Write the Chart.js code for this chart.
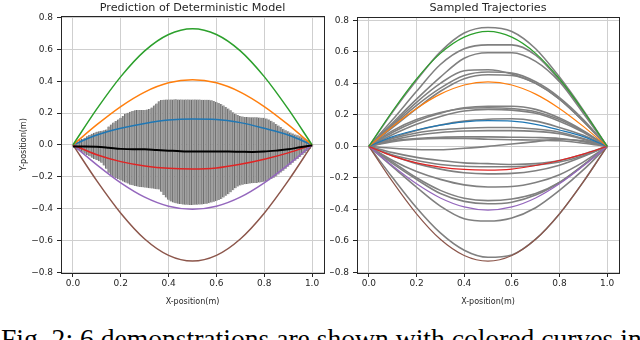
<!DOCTYPE html>
<html><head><meta charset="utf-8">
<script src="https://cdn.jsdelivr.net/npm/chart.js@4.4.1/dist/chart.umd.min.js"></script>
<style>
html,body{margin:0;padding:0;background:#fff;width:640px;height:340px;overflow:hidden;}
#c1{position:absolute;left:0;top:0;}
#c2{position:absolute;left:330px;top:0;}
#cap{position:absolute;left:1px;top:325px;font-family:'Liberation Serif';font-size:27.6px;line-height:27px;white-space:nowrap;color:#000;}
</style></head><body>
<canvas id="c1" width="330" height="312"></canvas>
<canvas id="c2" width="310" height="312"></canvas>
<div id="cap">Fig. 2: 6 demonstrations are shown with colored curves in</div>
<script>
// ---- data ----
const xTicks = [0, 0.2, 0.4, 0.6, 0.8, 1.0];
const yTicks = [-0.8, -0.6, -0.4, -0.2, 0, 0.2, 0.4, 0.6, 0.8];
const xs = [0, 0.1, 0.2, 0.3, 0.4, 0.5, 0.6, 0.7, 0.8, 0.9, 1.0];
const xsFine = [0,0.05,0.1,0.15,0.2,0.25,0.3,0.35,0.4,0.45,0.5,0.55,0.6,0.65,0.7,0.75,0.8,0.85,0.9,0.95,1.0];

const demoGreen  = [0, 0.226, 0.429, 0.591, 0.694, 0.73, 0.694, 0.591, 0.429, 0.226, 0];
const demoOrange = [0, 0.127, 0.241, 0.332, 0.39, 0.41, 0.39, 0.332, 0.241, 0.127, 0];
const demoBlue   = [0, 0.062, 0.104, 0.135, 0.156, 0.163, 0.16, 0.14, 0.104, 0.062, 0];
const demoRed    = [0, -0.062, -0.105, -0.132, -0.147, -0.151, -0.145, -0.122, -0.09, -0.05, 0];
const demoPurple = [0, -0.125, -0.238, -0.328, -0.385, -0.405, -0.385, -0.328, -0.238, -0.125, 0];
const demoBrown  = [0, -0.226, -0.429, -0.591, -0.694, -0.73, -0.694, -0.591, -0.429, -0.226, 0];

const predMean = [-0.01,-0.01,-0.012,-0.018,-0.025,-0.028,-0.028,-0.032,-0.036,-0.04,-0.042,-0.042,-0.042,-0.042,-0.043,-0.044,-0.042,-0.036,-0.028,-0.015,-0.003];

const barX = [0,0.01,0.02,0.03,0.04,0.05,0.06,0.07,0.08,0.09,
 0.1,0.11,0.12,0.13,0.14,0.15,0.16,0.17,0.18,0.19,
 0.2,0.21,0.22,0.23,0.24,0.25,0.26,0.27,0.28,0.29,
 0.3,0.31,0.32,0.33,0.34,0.35,0.36,0.37,0.38,0.39,
 0.4,0.41,0.42,0.43,0.44,0.45,0.46,0.47,0.48,0.49,
 0.5,0.51,0.52,0.53,0.54,0.55,0.56,0.57,0.58,0.59,
 0.6,0.61,0.62,0.63,0.64,0.65,0.66,0.67,0.68,0.69,
 0.7,0.71,0.72,0.73,0.74,0.75,0.76,0.77,0.78,0.79,
 0.8,0.81,0.82,0.83,0.84,0.85,0.86,0.87,0.88,0.89,
 0.9,0.91,0.92,0.93,0.94,0.95,0.96,0.97,0.98,0.99,1.0];
const barHi = [0,0.01,0.02,0.03,0.037,0.045,0.055,0.062,0.07,0.077,
 0.083,0.086,0.089,0.092,0.096,0.115,0.128,0.14,0.15,0.16,
 0.17,0.182,0.195,0.202,0.208,0.213,0.217,0.219,0.22,0.22,
 0.22,0.222,0.226,0.235,0.248,0.26,0.275,0.282,0.284,0.285,
 0.285,0.286,0.286,0.287,0.286,0.286,0.285,0.286,0.286,0.285,
 0.285,0.286,0.285,0.285,0.284,0.284,0.284,0.283,0.28,0.276,
 0.27,0.264,0.257,0.248,0.238,0.228,0.218,0.205,0.195,0.188,
 0.182,0.178,0.176,0.175,0.174,0.174,0.173,0.173,0.172,0.171,
 0.17,0.166,0.16,0.152,0.143,0.132,0.122,0.112,0.102,0.092,
 0.085,0.078,0.072,0.066,0.06,0.054,0.048,0.04,0.03,0.018,0.005];
const barLo = [-0.01,-0.02,-0.03,-0.04,-0.048,-0.056,-0.064,-0.072,-0.08,-0.088,
 -0.095,-0.102,-0.112,-0.13,-0.15,-0.175,-0.19,-0.2,-0.208,-0.215,
 -0.222,-0.23,-0.237,-0.243,-0.25,-0.254,-0.258,-0.261,-0.264,-0.266,
 -0.268,-0.27,-0.272,-0.274,-0.276,-0.278,-0.28,-0.295,-0.315,-0.33,
 -0.345,-0.355,-0.362,-0.367,-0.37,-0.372,-0.375,-0.376,-0.376,-0.377,
 -0.377,-0.376,-0.376,-0.375,-0.374,-0.372,-0.37,-0.366,-0.362,-0.357,
 -0.352,-0.346,-0.34,-0.33,-0.32,-0.31,-0.298,-0.285,-0.272,-0.262,
 -0.255,-0.25,-0.247,-0.245,-0.243,-0.241,-0.24,-0.239,-0.237,-0.235,
 -0.232,-0.228,-0.222,-0.215,-0.207,-0.198,-0.186,-0.174,-0.162,-0.15,
 -0.138,-0.125,-0.112,-0.1,-0.088,-0.076,-0.064,-0.052,-0.04,-0.025,-0.012];

const sampledY = [
 [0, 0.22, 0.42, 0.60, 0.72, 0.755, 0.73, 0.62, 0.44, 0.23, 0],
 [0, 0.17, 0.35, 0.52, 0.62, 0.645, 0.645, 0.58, 0.42, 0.22, 0],
 [0, 0.15, 0.30, 0.44, 0.56, 0.595, 0.595, 0.54, 0.41, 0.21, 0],
 [0, 0.14, 0.28, 0.40, 0.48, 0.487, 0.46, 0.40, 0.30, 0.16, 0],
 [0, 0.13, 0.26, 0.37, 0.45, 0.472, 0.465, 0.41, 0.31, 0.17, 0],
 [0, 0.12, 0.24, 0.35, 0.43, 0.455, 0.45, 0.40, 0.30, 0.16, 0],
 [0, 0.09, 0.16, 0.21, 0.245, 0.255, 0.255, 0.235, 0.18, 0.10, 0],
 [0, 0.10, 0.17, 0.215, 0.24, 0.245, 0.24, 0.22, 0.17, 0.095, 0],
 [0, 0.075, 0.14, 0.19, 0.225, 0.235, 0.23, 0.21, 0.16, 0.09, 0],
 [0, 0.055, 0.10, 0.135, 0.16, 0.172, 0.175, 0.16, 0.12, 0.07, 0],
 [0, 0.05, 0.085, 0.105, 0.115, 0.12, 0.12, 0.11, 0.09, 0.05, 0],
 [0, 0.04, 0.07, 0.088, 0.097, 0.10, 0.10, 0.095, 0.08, 0.045, 0],
 [0, 0.035, 0.05, 0.058, 0.06, 0.06, 0.058, 0.056, 0.05, 0.03, 0],
 [0, 0.03, 0.045, 0.05, 0.05, 0.045, 0.042, 0.04, 0.035, 0.02, 0],
 [0, -0.012, -0.02, -0.022, -0.012, 0.0, 0.015, 0.03, 0.045, 0.035, 0],
 [0, -0.04, -0.07, -0.09, -0.105, -0.11, -0.115, -0.11, -0.09, -0.05, 0],
 [0, -0.055, -0.09, -0.115, -0.127, -0.13, -0.13, -0.12, -0.10, -0.06, 0],
 [0, -0.06, -0.11, -0.145, -0.168, -0.175, -0.172, -0.155, -0.12, -0.065, 0],
 [0, -0.09, -0.16, -0.21, -0.245, -0.258, -0.255, -0.23, -0.18, -0.10, 0],
 [0, -0.10, -0.20, -0.28, -0.33, -0.345, -0.335, -0.30, -0.23, -0.12, 0],
 [0, -0.11, -0.21, -0.30, -0.35, -0.365, -0.355, -0.31, -0.23, -0.12, 0],
 [0, -0.13, -0.26, -0.38, -0.46, -0.475, -0.455, -0.39, -0.28, -0.15, 0],
 [0, -0.20, -0.39, -0.55, -0.66, -0.705, -0.69, -0.59, -0.43, -0.226, 0]
];

// ---- styling / helpers ----
const FONT = 'DejaVu Sans';
Chart.defaults.font.family = FONT;
Chart.defaults.color = '#262626';
const demoColors = ['#2ca02c', '#ff7f0e', '#1f77b4', '#e02424', '#9467bd', '#8c564b'];
const demos = [demoGreen, demoOrange, demoBlue, demoRed, demoPurple, demoBrown];
const pts = (xv, yv) => xv.map((x, i) => ({x, y: yv[i]}));
const fmt = v => (v < 0 ? '\u2212' : '') + Math.abs(v).toFixed(1);

const frame = {id: 'frame', afterDraw(c, args, opts) {
  const {ctx, chartArea: a} = c;
  ctx.save(); ctx.strokeStyle = '#262626'; ctx.lineWidth = 1;
  ctx.strokeRect(Math.round(a.left) + 0.5, Math.round(a.top) + 0.5, Math.round(a.right - a.left), Math.round(a.bottom - a.top));
  ctx.fillStyle = '#262626';
  ctx.font = '11.2px "DejaVu Sans"';
  ctx.textAlign = 'center'; ctx.textBaseline = 'alphabetic';
  ctx.fillText(c.options.plotTitle, (a.left + a.right) / 2, 10.8);
  ctx.restore();
}};

function scales(yWidth, yTitle, ymax) {
  return {
    x: {type: 'linear', min: -0.05, max: 1.05, offset: false,
      afterBuildTicks: s => { s.ticks = xTicks.map(v => ({value: v})); },
      afterFit: s => { s.height = 37; },
      ticks: {callback: v => v.toFixed(1), font: {size: 9}, padding: 1, maxRotation: 0, autoSkip: false, color: '#262626'},
      grid: {color: '#cfcfcf', lineWidth: 1, tickColor: '#262626', tickLength: 4, offset: false},
      border: {display: false},
      title: {display: true, text: 'X-position(m)', font: {size: 8}, padding: {top: 0, bottom: 3.2}, color: '#262626'}
    },
    y: {type: 'linear', min: -0.805, max: ymax,
      afterBuildTicks: s => { s.ticks = yTicks.map(v => ({value: v})); },
      afterFit: s => { s.width = yWidth; },
      ticks: {callback: v => fmt(v), font: {size: 9}, padding: 4, autoSkip: false, color: '#262626'},
      grid: {color: '#cfcfcf', lineWidth: 1, tickColor: '#262626', tickLength: 4},
      border: {display: false},
      title: {display: !!yTitle, text: yTitle || '', font: {size: 8}, padding: {top: 19.2, bottom: 0}, color: '#262626'}
    }
  };
}

function lineDs(xv, yv, color, width, order) {
  return {type: 'line', data: pts(xv, yv), borderColor: color, borderWidth: width,
    pointRadius: 0, fill: false, cubicInterpolationMode: 'monotone', order};
}

// ---- left chart ----
const leftDs = [];
leftDs.push({type: 'bar', data: barX.map((x, i) => ({x, y: [barLo[i], barHi[i]]})),
  backgroundColor: '#a2a2a2', borderColor: '#6c6c6c',
  borderWidth: {left: 1, right: 0, top: 0, bottom: 0}, borderSkipped: false,
  barPercentage: 1, categoryPercentage: 1, order: 10});
demos.forEach((d, i) => leftDs.push(lineDs(xs, d, demoColors[i], 1.5, 2)));
leftDs.push(lineDs(xsFine, predMean, '#000000', 2, 0));

new Chart(document.getElementById('c1'), {
  type: 'line',
  data: {datasets: leftDs},
  options: {
    plotTitle: 'Prediction of Deterministic Model',
    responsive: false, animation: false,
    layout: {padding: {left: 0, right: 6, top: 16, bottom: 2}},
    plugins: {legend: {display: false}, tooltip: {enabled: false}, title: {display: false}},
    scales: scales(61, 'Y-position(m)', 0.81)
  },
  plugins: [frame]
});

// ---- right chart ----
const rightDs = [];
sampledY.forEach(s => rightDs.push(lineDs(xs, s, '#808080', 1.6, 5)));
demos.forEach((d, i) => rightDs.push(lineDs(xs, d, demoColors[i], 1.2, 1)));

new Chart(document.getElementById('c2'), {
  type: 'line',
  data: {datasets: rightDs},
  options: {
    plotTitle: 'Sampled Trajectories',
    responsive: false, animation: false,
    layout: {padding: {left: 0, right: 21, top: 17.3, bottom: 2}},
    plugins: {legend: {display: false}, tooltip: {enabled: false}, title: {display: false}},
    scales: scales(27, null, 0.82)
  },
  plugins: [frame]
});
</script>
</body></html>
